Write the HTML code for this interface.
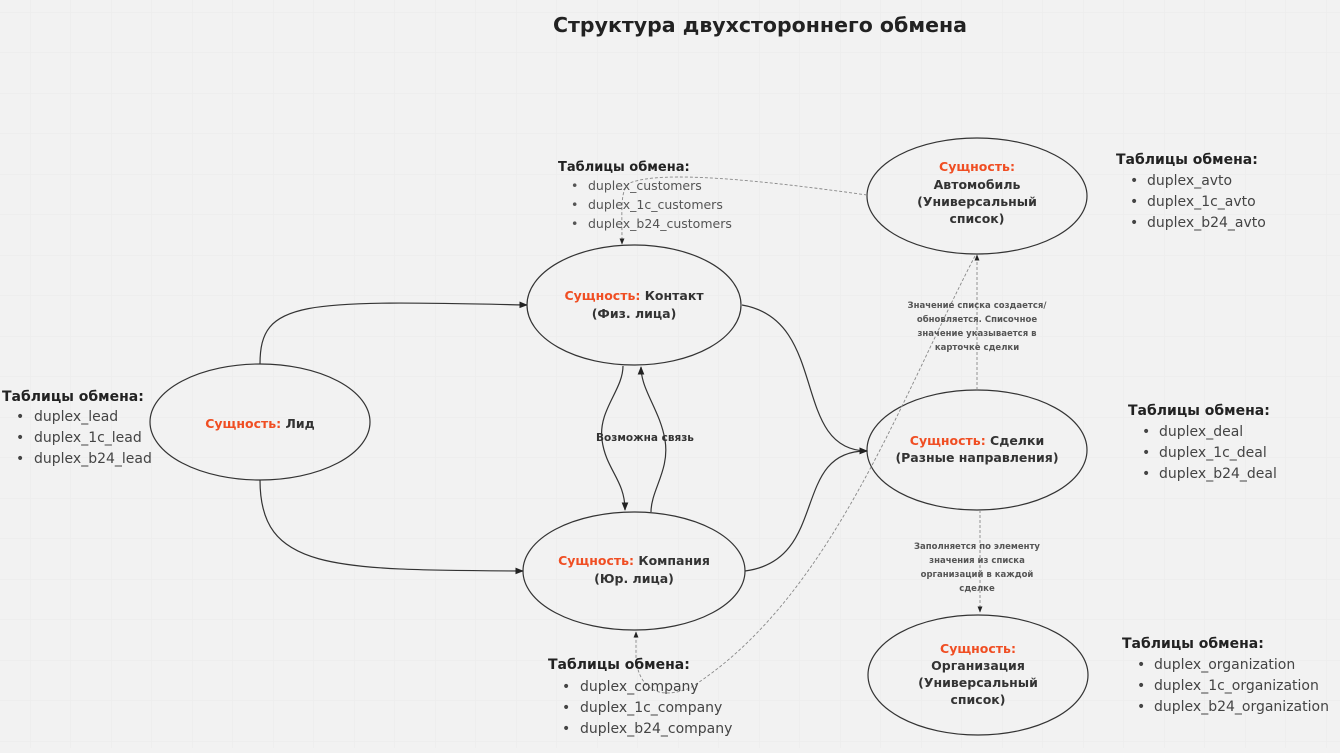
<!DOCTYPE html>
<html><head><meta charset="utf-8"><style>
body{margin:0;width:1340px;height:748px;overflow:hidden;background:#f2f2f2;font-family:"Liberation Sans","DejaVu Sans",sans-serif}
</style></head><body>
<svg width="1340" height="748" xmlns="http://www.w3.org/2000/svg" font-family="'DejaVu Sans','Liberation Sans',sans-serif">
<defs>
<pattern id="g" x="30" y="12" width="40.5" height="40.5" patternUnits="userSpaceOnUse"><path d="M0 0V40.5M0 0H40.5" stroke="#ebebeb" stroke-width="1" fill="none"/></pattern>
<marker id="a" viewBox="0 0 10 10" refX="9" refY="5" markerWidth="7" markerHeight="7" orient="auto"><path d="M0 1L10 5L0 9z" fill="#222"/></marker>
</defs>
<rect width="1340" height="748" fill="url(#g)"/>
<text x="760" y="32" text-anchor="middle" font-size="20.5" font-weight="bold" fill="#222">Структура двухстороннего обмена</text>
<g fill="none" stroke="#333" stroke-width="1.2">
<ellipse cx="260" cy="422" rx="110" ry="58"/>
<ellipse cx="634" cy="305" rx="107" ry="60"/>
<ellipse cx="634" cy="571" rx="111" ry="59"/>
<ellipse cx="977" cy="196" rx="110" ry="58"/>
<ellipse cx="977" cy="450" rx="110" ry="60"/>
<ellipse cx="978" cy="675" rx="110" ry="60"/>
<path d="M260 364C260 300 300 300 527 305" marker-end="url(#a)"/>
<path d="M260 480C260 570 330 570 523 571" marker-end="url(#a)"/>
<path d="M623 366C623 390 598 410 602 440S625 480 625 510" marker-end="url(#a)"/>
<path d="M651 512C651 490 670 470 665 440S641 390 641 367" marker-end="url(#a)"/>
<path d="M742 305C830 320 790 450 867 451" marker-end="url(#a)"/>
<path d="M745 571C830 560 790 450 867 451" marker-end="url(#a)"/>
</g>
<g fill="none" stroke="#888" stroke-width="0.9" stroke-dasharray="3 2">
<path d="M867 195C760 180 660 170 630 183C620 190 622 205 622 244" marker-end="url(#a)"/>
<path d="M977 390V255" marker-end="url(#a)"/>
<path d="M980 510V612" marker-end="url(#a)"/>
<path d="M975 256C900 400 830 600 690 688C660 700 640 690 636 660V632" marker-end="url(#a)"/>
</g>
<g font-size="12.5" font-weight="bold" text-anchor="middle" fill="#333">
<text x="260" y="428"><tspan fill="#f04e23">Сущность:</tspan> Лид</text>
<text x="634" y="300"><tspan fill="#f04e23">Сущность:</tspan> Контакт</text>
<text x="634" y="318">(Физ. лица)</text>
<text x="634" y="565"><tspan fill="#f04e23">Сущность:</tspan> Компания</text>
<text x="634" y="583">(Юр. лица)</text>
<text x="977" y="171" fill="#f04e23">Сущность:</text>
<text x="977" y="189">Автомобиль</text>
<text x="977" y="206">(Универсальный</text>
<text x="977" y="223">список)</text>
<text x="977" y="445"><tspan fill="#f04e23">Сущность:</tspan> Сделки</text>
<text x="977" y="462">(Разные направления)</text>
<text x="978" y="653" fill="#f04e23">Сущность:</text>
<text x="978" y="670">Организация</text>
<text x="978" y="687">(Универсальный</text>
<text x="978" y="704">список)</text>
<text x="645" y="441" font-size="10.5">Возможна связь</text>
</g>
<g font-size="8.5" font-weight="bold" text-anchor="middle" fill="#555">
<text x="977" y="308">Значение списка создается/</text>
<text x="977" y="322">обновляется. Списочное</text>
<text x="977" y="336">значение указывается в</text>
<text x="977" y="350">карточке сделки</text>
<text x="977" y="549">Заполняется по элементу</text>
<text x="977" y="563">значения из списка</text>
<text x="977" y="577">организаций в каждой</text>
<text x="977" y="591">сделке</text>
</g>
<g font-size="14" fill="#222">
<text x="2" y="401" font-weight="bold">Таблицы обмена:</text>
<g fill="#444"><text x="16" y="421">•</text><text x="34" y="421">duplex_lead</text>
<text x="16" y="442">•</text><text x="34" y="442">duplex_1c_lead</text>
<text x="16" y="463">•</text><text x="34" y="463">duplex_b24_lead</text></g>
<text x="558" y="171" font-weight="bold" font-size="13">Таблицы обмена:</text>
<g fill="#555" font-size="12.5"><text x="571" y="190">•</text><text x="588" y="190">duplex_customers</text>
<text x="571" y="209">•</text><text x="588" y="209">duplex_1c_customers</text>
<text x="571" y="228">•</text><text x="588" y="228">duplex_b24_customers</text></g>
<text x="1116" y="164" font-weight="bold">Таблицы обмена:</text>
<g fill="#444"><text x="1130" y="185">•</text><text x="1147" y="185">duplex_avto</text>
<text x="1130" y="206">•</text><text x="1147" y="206">duplex_1c_avto</text>
<text x="1130" y="227">•</text><text x="1147" y="227">duplex_b24_avto</text></g>
<text x="1128" y="415" font-weight="bold">Таблицы обмена:</text>
<g fill="#444"><text x="1142" y="436">•</text><text x="1159" y="436">duplex_deal</text>
<text x="1142" y="457">•</text><text x="1159" y="457">duplex_1c_deal</text>
<text x="1142" y="478">•</text><text x="1159" y="478">duplex_b24_deal</text></g>
<text x="1122" y="648" font-weight="bold">Таблицы обмена:</text>
<g fill="#444"><text x="1137" y="669">•</text><text x="1154" y="669">duplex_organization</text>
<text x="1137" y="690">•</text><text x="1154" y="690">duplex_1c_organization</text>
<text x="1137" y="711">•</text><text x="1154" y="711">duplex_b24_organization</text></g>
<text x="548" y="669" font-weight="bold">Таблицы обмена:</text>
<g fill="#444"><text x="562" y="691">•</text><text x="580" y="691">duplex_company</text>
<text x="562" y="712">•</text><text x="580" y="712">duplex_1c_company</text>
<text x="562" y="733">•</text><text x="580" y="733">duplex_b24_company</text></g>
</g>
</svg>
</body></html>
